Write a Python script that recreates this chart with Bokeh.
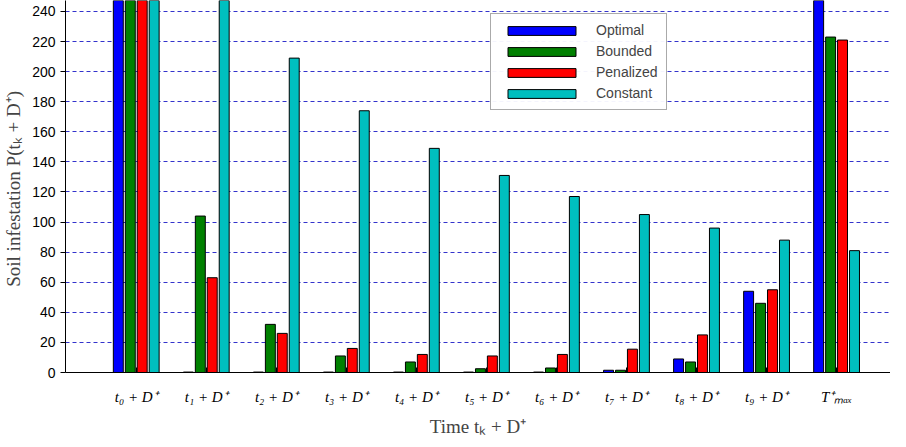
from bokeh.plotting import figure
from bokeh.models import FixedTicker, Legend, LegendItem
from bokeh.embed import file_html
from bokeh.resources import INLINE

labels = ["t₀ + D⁺", "t₁ + D⁺", "t₂ + D⁺", "t₃ + D⁺", "t₄ + D⁺", "t₅ + D⁺",
          "t₆ + D⁺", "t₇ + D⁺", "t₈ + D⁺", "t₉ + D⁺", "T⁺ₘₐₓ"]
optimal = [300, 0.3, 0.3, 0.3, 0.3, 0.3, 0.3, 1.5, 9, 54, 300]
bounded = [300, 104, 32, 11, 7, 2.5, 3, 1.5, 7, 46, 223]
penalized = [300, 63, 26, 16, 12, 11, 12, 15.5, 25, 55, 221]
constant = [300, 300, 209, 174, 149, 131, 117, 105, 96, 88, 81]
names = ["Optimal", "Bounded", "Penalized", "Constant"]
colors = ["#0000ff", "#008000", "#ff0000", "#00bfbf"]
series = [optimal, bounded, penalized, constant]

p = figure(width=890, height=439, output_backend="svg", toolbar_location=None,
           x_range=(-1.01, 10.77), y_range=(0, 247.3),
           min_border_left=62, min_border_right=0, min_border_top=0, min_border_bottom=55)
xs = list(range(len(labels)))
offs = [-0.256, -0.085, 0.085, 0.256]
items = []
for s, n, c, o in zip(series, names, colors, offs):
    r = p.vbar(x=[x + o for x in xs], top=s, width=0.142, bottom=0,
               fill_color=c, line_color="black", line_width=1)
    items.append(LegendItem(label=n, renderers=[r]))

leg = Legend(items=items, location=(425, 262), glyph_width=85, glyph_height=11,
             label_text_font="Liberation Sans", label_text_font_size="14px",
             border_line_color="#555555", border_line_width=1, spacing=5,
             padding=8, margin=0, label_standoff=12)
p.add_layout(leg, "center")

p.outline_line_color = None
p.xgrid.grid_line_color = None
p.ygrid.grid_line_color = "#3333cc"
p.ygrid.grid_line_dash = "4 3"
p.ygrid.grid_line_width = 1
p.yaxis.ticker = FixedTicker(ticks=list(range(0, 241, 20)))
p.xaxis.ticker = FixedTicker(ticks=xs)
p.xaxis.major_label_overrides = {i: l for i, l in enumerate(labels)}
p.xaxis.minor_tick_line_color = None
p.yaxis.minor_tick_line_color = None
for ax in (p.xaxis, p.yaxis):
    ax.axis_line_color = "black"
    ax.major_tick_line_color = "black"
    ax.major_label_text_color = "black"
    ax.axis_label_text_font = "Liberation Serif"
    ax.axis_label_text_font_style = "normal"
    ax.axis_label_text_font_size = "19px"
p.xaxis.major_label_text_font = "Liberation Serif"
p.xaxis.major_label_text_font_style = "italic"
p.xaxis.major_label_text_font_size = "15px"
p.xaxis.major_label_standoff = 16
p.xaxis.axis_label_standoff = 8
p.yaxis.major_label_text_font = "Liberation Sans"
p.yaxis.major_label_text_font_size = "14px"
p.xaxis.major_tick_in = 5
p.xaxis.major_tick_out = 0
p.yaxis.major_tick_in = 0
p.yaxis.major_tick_out = 5
p.xaxis.axis_label = "Time tₖ + D⁺"
p.yaxis.axis_label = "Soil infestation  P(tₖ + D⁺)"

open("out.html", "w").write(file_html(p, INLINE))
